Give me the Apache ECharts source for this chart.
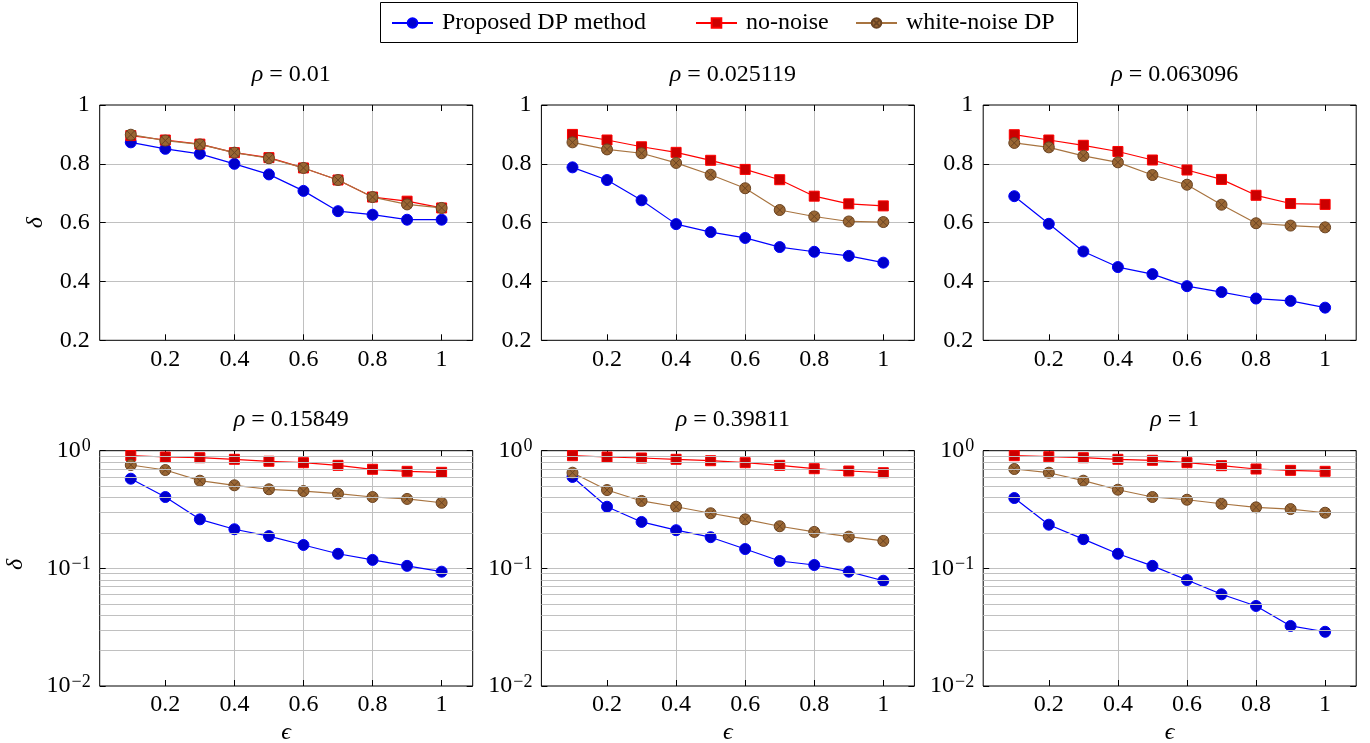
<!DOCTYPE html>
<html>
<head>
<meta charset="utf-8">
<script src="https://cdn.jsdelivr.net/npm/echarts@6/dist/echarts.min.js"></script>
<style>
html,body{margin:0;padding:0;background:#fff;}
#chart{width:1370px;height:743px;}
</style>
</head>
<body>
<div id="chart"></div>
<script>
// ---------- data ----------
const eps = [0.1, 0.2, 0.3, 0.4, 0.5, 0.6, 0.7, 0.8, 0.9, 1.0];
const rhoLabels = ['0.01', '0.025119', '0.063096', '0.15849', '0.39811', '1'];
const seriesNames = ['Proposed DP method', 'no-noise', 'white-noise DP'];

const proposed_r1 = [0.873, 0.851, 0.834, 0.800, 0.764, 0.708, 0.639, 0.627, 0.610, 0.610];
const noNoise_r1 = [0.896, 0.881, 0.867, 0.838, 0.821, 0.786, 0.745, 0.687, 0.673, 0.650];
const whiteNoise_r1 = [0.899, 0.879, 0.866, 0.838, 0.819, 0.786, 0.745, 0.687, 0.662, 0.650];

const proposed_r2 = [0.788, 0.745, 0.676, 0.595, 0.568, 0.548, 0.517, 0.501, 0.487, 0.464];
const noNoise_r2 = [0.900, 0.881, 0.858, 0.839, 0.812, 0.781, 0.746, 0.690, 0.664, 0.657];
const whiteNoise_r2 = [0.873, 0.849, 0.836, 0.803, 0.763, 0.717, 0.643, 0.621, 0.604, 0.602];

const proposed_r3 = [0.690, 0.596, 0.502, 0.449, 0.425, 0.384, 0.364, 0.342, 0.334, 0.311];
const noNoise_r3 = [0.899, 0.881, 0.863, 0.842, 0.813, 0.779, 0.747, 0.693, 0.665, 0.662];
const whiteNoise_r3 = [0.871, 0.856, 0.827, 0.805, 0.762, 0.729, 0.661, 0.598, 0.590, 0.584];

const proposed_r4 = [0.578, 0.404, 0.261, 0.215, 0.188, 0.158, 0.133, 0.118, 0.105, 0.0937];
const noNoise_r4 = [0.910, 0.884, 0.872, 0.845, 0.813, 0.791, 0.751, 0.695, 0.668, 0.655];
const whiteNoise_r4 = [0.756, 0.685, 0.556, 0.508, 0.470, 0.454, 0.431, 0.404, 0.389, 0.361];

const proposed_r5 = [0.598, 0.334, 0.248, 0.211, 0.184, 0.146, 0.1155, 0.1068, 0.0937, 0.0785];
const noNoise_r5 = [0.907, 0.884, 0.867, 0.845, 0.822, 0.791, 0.751, 0.703, 0.672, 0.650];
const whiteNoise_r5 = [0.650, 0.463, 0.374, 0.334, 0.294, 0.261, 0.228, 0.204, 0.186, 0.171];

const proposed_r6 = [0.396, 0.235, 0.177, 0.133, 0.105, 0.0796, 0.0602, 0.0479, 0.0324, 0.0289];
const noNoise_r6 = [0.907, 0.889, 0.872, 0.845, 0.829, 0.791, 0.746, 0.699, 0.681, 0.668];
const whiteNoise_r6 = [0.699, 0.650, 0.556, 0.466, 0.404, 0.383, 0.354, 0.330, 0.319, 0.297];

const xTicks = [0.2, 0.4, 0.6, 0.8, 1];
const linTicksMin = 0.2, linTicksMax = 1, linInterval = 0.2;
const logMinor = [0.02, 0.03, 0.04, 0.05, 0.06, 0.07, 0.08, 0.09, 0.2, 0.3, 0.4, 0.5, 0.6, 0.7, 0.8, 0.9];

const panels = [
  [proposed_r1, noNoise_r1, whiteNoise_r1],
  [proposed_r2, noNoise_r2, whiteNoise_r2],
  [proposed_r3, noNoise_r3, whiteNoise_r3],
  [proposed_r4, noNoise_r4, whiteNoise_r4],
  [proposed_r5, noNoise_r5, whiteNoise_r5],
  [proposed_r6, noNoise_r6, whiteNoise_r6]
];

// ---------- layout / style ----------
const FONT = 'Liberation Serif, DejaVu Serif, serif';
const FS = 24;
const lefts = [99.7, 541.4, 983.2];
const W = 373;
const tops = [105, 450.7];
const H = 235.3;
const gridColor = '#c0c0c0';
const otimes = 'path://M0,-10A10,10,0,1,1,0,10A10,10,0,1,1,0,-10ZM-7.07,-7.07L7.07,7.07M-7.07,7.07L7.07,-7.07';
const legendLefts = [391, 695, 855];
const legendBox = { x: 380.5, y: 2.5, width: 697, height: 40 };

const styles = [
  { symbol: 'circle', size: 11, line: '#0000ff', fill: '#0000cc', border: '#0000ff' },
  { symbol: 'rect', size: 10, line: '#ff0000', fill: '#cc0000', border: '#ff0000' },
  { symbol: otimes, size: 11, line: '#a87440', fill: '#996633', border: '#6b4423' }
];

function fmtNum(v) { return String(Math.round(v * 1000) / 1000); }
function fmtLog(v) {
  const e = Math.round(Math.log10(v));
  return '{b|10}{s|' + (e < 0 ? '\u2212' + (-e) : String(e)) + '}';
}

const grids = [], xAxes = [], yAxes = [], series = [], titles = [];

for (let i = 0; i < 6; i++) {
  const row = Math.floor(i / 3), col = i % 3;
  const isLog = row === 1;
  grids.push({
    left: lefts[col], top: tops[row], width: W, height: H,
    outerBoundsMode: 'none', containLabel: false,
    show: true, borderColor: '#000', borderWidth: 1, backgroundColor: 'transparent'
  });
  const tickStyle = { show: true, inside: true, length: 6, lineStyle: { color: '#000', width: 1 } };
  xAxes.push({
    type: 'value', gridIndex: i, position: 'bottom', min: 0.01, max: 1.09,
    axisLine: { show: false },
    axisTick: Object.assign({ customValues: xTicks }, tickStyle),
    axisLabel: { show: true, customValues: xTicks, margin: 7, formatter: fmtNum,
      fontFamily: FONT, fontSize: FS, color: '#000' },
    splitLine: { show: true, showMinLine: false, showMaxLine: false, lineStyle: { color: gridColor, width: 1 } },
    name: isLog ? '\u03F5' : '',
    nameLocation: 'middle', nameGap: 35, nameMoveOverlap: false,
    nameTextStyle: { fontFamily: FONT, fontSize: FS, fontStyle: 'italic', color: '#000' }
  });
  xAxes.push({
    type: 'value', gridIndex: i, position: 'top', min: 0.01, max: 1.09,
    axisLine: { show: false },
    axisTick: Object.assign({ customValues: xTicks }, tickStyle),
    axisLabel: { show: false },
    splitLine: { show: false }
  });
  const yBase = isLog
    ? { type: 'log', logBase: 10, min: 0.01, max: 1 }
    : { type: 'value', min: linTicksMin, max: linTicksMax, interval: linInterval };
  yAxes.push(Object.assign({}, yBase, {
    gridIndex: i, position: 'left',
    axisLine: { show: false },
    axisTick: tickStyle,
    axisLabel: isLog ? {
      margin: 9, formatter: fmtLog,
      rich: {
        b: { fontFamily: FONT, fontSize: FS, color: '#000', lineHeight: 26 },
        s: { fontFamily: FONT, fontSize: 18, color: '#000', lineHeight: 17, verticalAlign: 'top', padding: [0, 0, 0, 1] }
      }
    } : { margin: 10, formatter: fmtNum, fontFamily: FONT, fontSize: FS, color: '#000' },
    splitLine: { show: true, showMinLine: false, showMaxLine: false, lineStyle: { color: gridColor, width: 1 } },
    name: (col === 0 && !isLog) ? '\u03B4' : '',
    nameLocation: 'middle', nameRotate: 90, nameGap: 52, nameMoveOverlap: false,
    nameTextStyle: { fontFamily: FONT, fontSize: FS, fontStyle: 'italic', color: '#000' }
  }));
  yAxes.push(Object.assign({}, yBase, {
    gridIndex: i, position: 'right',
    axisLine: { show: false },
    axisTick: tickStyle,
    axisLabel: { show: false },
    splitLine: { show: false }
  }));

  titles.push({
    text: '{i|\u03C1} = ' + rhoLabels[i],
    left: lefts[col] + W / 2, top: row === 0 ? 58 : 403, textAlign: 'center',
    textStyle: {
      fontFamily: FONT, fontSize: FS, fontWeight: 'normal', color: '#000',
      rich: { i: { fontFamily: FONT, fontSize: FS, fontStyle: 'italic', color: '#000' } }
    }
  });

  if (isLog) {
    series.push({
      type: 'line', xAxisIndex: 2 * i, yAxisIndex: 2 * i, z: 1, silent: true,
      data: [[0.5, 0.5]], showSymbol: false, symbol: 'none',
      lineStyle: { width: 0, opacity: 0 }, legendHoverLink: false, tooltip: { show: false },
      markLine: {
        silent: true, symbol: ['none', 'none'], animation: false,
        label: { show: false },
        lineStyle: { color: gridColor, width: 1, type: 'solid' },
        emphasis: { disabled: true },
        data: logMinor.map(v => ({ yAxis: v }))
      }
    });
  }

  panels[i].forEach((vals, k) => {
    const st = styles[k];
    series.push({
      name: seriesNames[k], type: 'line', xAxisIndex: 2 * i, yAxisIndex: 2 * i,
      data: eps.map((e, j) => [e, vals[j]]),
      symbol: st.symbol, symbolSize: st.size, showAllSymbol: true,
      lineStyle: { color: st.line, width: 1.2 },
      itemStyle: { color: st.fill, borderColor: st.border, borderWidth: 1 },
      emphasis: { disabled: true }, z: 2 + k
    });
  });
}

const legends = seriesNames.map((n, k) => ({
  data: [n], top: 11, left: legendLefts[k], orient: 'horizontal',
  padding: 0, itemWidth: 41, itemHeight: 12, selectedMode: false,
  formatter: '{t|{name}}',
  textStyle: { fontFamily: FONT, fontSize: FS, color: '#000',
    rich: { t: { fontFamily: FONT, fontSize: FS, color: '#000', padding: [0, 0, 0, 4] } } }
}));

const chart = echarts.init(document.getElementById('chart'), null, { renderer: 'canvas' });
chart.setOption({
  animation: false,
  backgroundColor: '#fff',
  title: titles,
  legend: legends,
  grid: grids,
  xAxis: xAxes,
  yAxis: yAxes,
  series: series,
  graphic: [
    { type: 'rect', silent: true, z: 10,
      shape: legendBox,
      style: { fill: 'none', stroke: '#000', lineWidth: 1 } },
    { type: 'text', silent: true, z: 10, x: 4, y: 570, rotation: Math.PI / 2,
      style: { text: '\u03B4', fontFamily: FONT, fontSize: FS, fontStyle: 'italic', fill: '#000' } }
  ]
});
</script>
</body>
</html>
